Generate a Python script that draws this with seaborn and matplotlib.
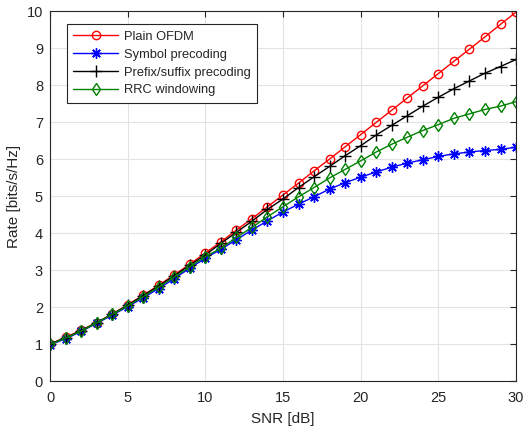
import numpy as np
import pandas as pd
import matplotlib
matplotlib.use("Agg")
import matplotlib.pyplot as plt
import seaborn as sns

snr_db = list(range(0, 31))

plain_ofdm = [1.00, 1.18, 1.37, 1.58, 1.81, 2.06, 2.32, 2.59, 2.87, 3.16,
              3.46, 3.76, 4.08, 4.39, 4.71, 5.03, 5.35, 5.68, 6.00, 6.33,
              6.66, 6.99, 7.32, 7.65, 7.98, 8.31, 8.64, 8.97, 9.30, 9.64, 9.97]
symbol_precoding = [0.98, 1.14, 1.34, 1.56, 1.78, 2.01, 2.25, 2.50, 2.77, 3.05,
                    3.32, 3.56, 3.82, 4.08, 4.33, 4.57, 4.78, 4.98, 5.19, 5.36,
                    5.51, 5.65, 5.78, 5.89, 5.98, 6.07, 6.14, 6.19, 6.23, 6.26, 6.32]
prefix_suffix = [1.00, 1.17, 1.36, 1.58, 1.80, 2.05, 2.31, 2.57, 2.85, 3.13,
                 3.41, 3.72, 4.02, 4.32, 4.64, 4.92, 5.23, 5.52, 5.80, 6.09,
                 6.36, 6.65, 6.91, 7.17, 7.43, 7.67, 7.90, 8.11, 8.32, 8.50, 8.69]
rrc_windowing = [0.99, 1.16, 1.35, 1.57, 1.80, 2.03, 2.28, 2.54, 2.81, 3.09,
                 3.36, 3.59, 3.88, 4.15, 4.44, 4.71, 4.98, 5.23, 5.49, 5.72,
                 5.95, 6.19, 6.40, 6.59, 6.77, 6.93, 7.10, 7.22, 7.34, 7.43, 7.55]

series_names = ["Plain OFDM", "Symbol precoding", "Prefix/suffix precoding", "RRC windowing"]
series_values = [plain_ofdm, symbol_precoding, prefix_suffix, rrc_windowing]
colors = ["#ff0000", "#0000ff", "#000000", "#008000"]
# circle, 8-armed asterisk, plus, thin diamond
markers = ["o", (8, 2, 0), "+", "d"]
marker_sizes = [6, 7.5, 9, 6.5]
marker_edge_widths = [1.0, 1.0, 1.0, 1.0]
hollow = [True, False, False, True]

sns.set_style("white")
plt.rcParams["font.family"] = ["Liberation Sans", "DejaVu Sans"]

fig = plt.figure(figsize=(5.27, 4.32), dpi=100)
ax = fig.add_axes([0.0949, 0.118, 0.8843, 0.8565])

for name, vals, c, m, ms, mew, h in zip(series_names, series_values, colors,
                                        markers, marker_sizes, marker_edge_widths, hollow):
    df = pd.DataFrame({"snr": snr_db, "rate": vals})
    sns.lineplot(data=df, x="snr", y="rate", ax=ax, color=c, label=name,
                 marker=m, markersize=ms, markeredgewidth=mew,
                 markeredgecolor=c,
                 markerfacecolor="none" if h else c,
                 linewidth=1.0, linestyle="-", dashes=False)

ax.set_xlim(0, 30)
ax.set_ylim(0, 10)
ax.set_xticks(range(0, 31, 5))
ax.set_yticks(range(0, 11))
ax.grid(True, color="#e3e3e3", linewidth=0.8)
ax.set_axisbelow(True)
for s in ax.spines.values():
    s.set_color("#262626")
    s.set_linewidth(0.8)
ax.tick_params(direction="in", length=4, width=0.8, colors="#262626",
               labelsize=10.5, top=True, right=True)
ax.tick_params(axis="x", pad=7)
ax.tick_params(axis="y", pad=5)
ax.set_xlabel("SNR [dB]", fontsize=11, color="#262626", labelpad=5)
ax.set_ylabel("Rate [bits/s/Hz]", fontsize=11, color="#262626", labelpad=4)

leg = ax.legend(loc="upper left", bbox_to_anchor=(0.036, 0.964), fontsize=9.3,
                frameon=True, fancybox=False, framealpha=1, edgecolor="#262626",
                borderpad=0.5, labelspacing=0.45, handlelength=3.5, handletextpad=0.45,
                borderaxespad=0)
leg.get_frame().set_linewidth(0.8)

fig.savefig("out.png", dpi=100)
